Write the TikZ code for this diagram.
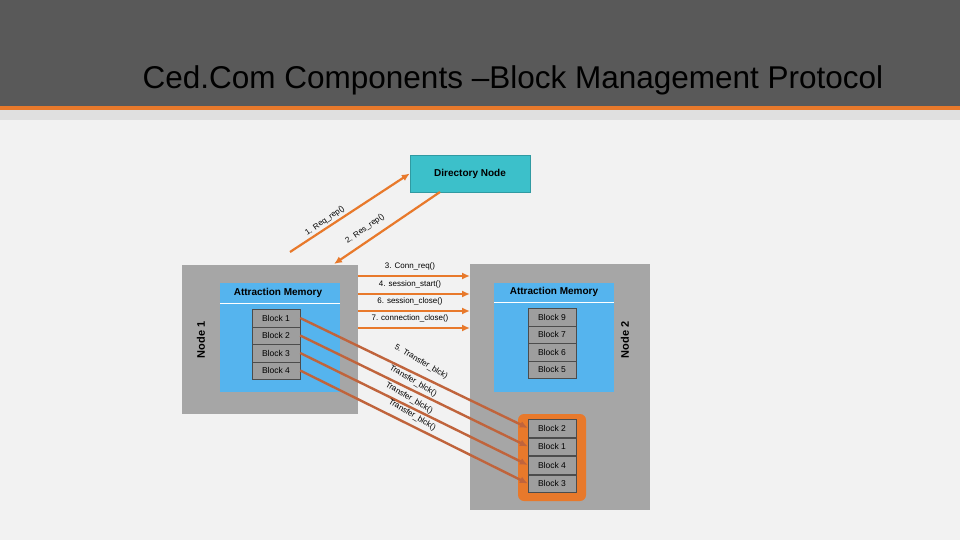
\documentclass[tikz,border=0pt]{standalone}
\usepackage{fontspec}
\setmainfont{Liberation Sans}
\usetikzlibrary{arrows.meta}
\begin{document}
\begin{tikzpicture}[x=1pt,y=-1pt,
 blk/.style={draw=black!70,fill=black!38!white,minimum width=48pt,minimum height=17.5pt,font=\fontsize{8.5}{8.5}\selectfont,inner sep=0pt},
 lbl/.style={font=\fontsize{8}{8}\selectfont,inner sep=1pt}]
\definecolor{bg}{HTML}{F2F2F2}\definecolor{dark}{HTML}{595959}
\definecolor{ob}{HTML}{E8792B}\definecolor{mb}{HTML}{55B4EE}
\definecolor{gb}{HTML}{A6A6A6}\definecolor{tb}{HTML}{C0643C}
\definecolor{teal1}{HTML}{3CC0CA}
\tikzset{oarr/.style={draw=ob,line width=2.2pt,-{Latex[length=8pt,width=7pt]}},
 tarr/.style={draw=tb,line width=2.4pt,-{Latex[length=8pt,width=7pt]}}}
\useasboundingbox (0,0) rectangle (960,540);
\fill[bg] (0,0) rectangle (960,540);
\fill[dark] (0,0) rectangle (960,106);
\fill[ob] (0,106) rectangle (960,110);
\fill[black!12] (0,110) rectangle (960,120);
\node (title) at (513,80) {\fontsize{31.5}{31.5}\selectfont Ced.Com Components --Block Management Protocol};
\node[fill=teal1,draw=teal1!80!black,minimum width=120pt,minimum height=37pt,font=\bfseries\fontsize{10}{10}\selectfont] (dir) at (470,173.5) {Directory Node};
% Node 1
\fill[gb] (182,265) rectangle (358,414);
\node[rotate=90,font=\bfseries\fontsize{11}{11}\selectfont] (n1) at (201,340) {Node 1};
\fill[mb] (220,283) rectangle (340,392);
\draw[white,line width=1pt] (220,303) -- (340,303);
\node[font=\bfseries\fontsize{10}{10}\selectfont] (am1) at (278,293) {Attraction Memory};
\node[blk] (a1) at (276,318) {Block 1};
\node[blk] (a2) at (276,335.5) {Block 2};
\node[blk] (a3) at (276,353) {Block 3};
\node[blk] (a4) at (276,370.5) {Block 4};
% Node 2
\fill[gb] (470,264) rectangle (650,510);
\node[rotate=90,font=\bfseries\fontsize{11}{11}\selectfont] (n2) at (625,340) {Node 2};
\fill[mb] (494,283) rectangle (614,392);
\draw[white,line width=1pt] (494,302) -- (614,302);
\node[font=\bfseries\fontsize{10}{10}\selectfont] (am2) at (554,292) {Attraction Memory};
\node[blk] (b9) at (552,317) {Block 9};
\node[blk] (b7) at (552,334.5) {Block 7};
\node[blk] (b6) at (552,352) {Block 6};
\node[blk] (b5) at (552,369.5) {Block 5};
\fill[ob,rounded corners=6pt] (518,414) rectangle (586,501);
\node[blk] (c2) at (552,428) {Block 2};
\node[blk] (c1) at (552,446.5) {Block 1};
\node[blk] (c4) at (552,465) {Block 4};
\node[blk] (c3) at (552,483.5) {Block 3};
% directory arrows
\coordinate (s1) at (290,252);
\coordinate (e2) at (334,264);
\draw[oarr] (s1) -- (dir.west);
\node[lbl,rotate=35] (l1) at (325,221) {1. Req\_rep()};
\coordinate (s2) at (440,192);
\draw[oarr] (s2) -- (e2);
\node[lbl,rotate=35] (l2) at (365,229) {2. Res\_rep()};
% horizontal arrows
\foreach \y/\t in {276/3. Conn\_req(),294/4. session\_start(),311/6. session\_close(),328/7. connection\_close()}{
 \coordinate (hl\y) at (358,\y); \coordinate (hr\y) at (470,\y);
 \draw[oarr] (hl\y) -- (hr\y);
 \node[lbl] at (410,\y-9.5) {\t};}
% transfers
\draw[tarr] (a1.east) -- (c2.west);
\draw[tarr] (a2.east) -- (c1.west);
\draw[tarr] (a3.east) -- (c4.west);
\draw[tarr] (a4.east) -- (c3.west);
\node[lbl,rotate=-31] (t1) at (421,362) {5. Transfer\_blck)};
\node[lbl,rotate=-31] (t2) at (413,381) {Transfer\_blck()};
\node[lbl,rotate=-31] (t3) at (409,398) {Transfer\_blck()};
\node[lbl,rotate=-31] (t4) at (412,415) {Transfer\_blck()};
\end{tikzpicture}
\end{document}
